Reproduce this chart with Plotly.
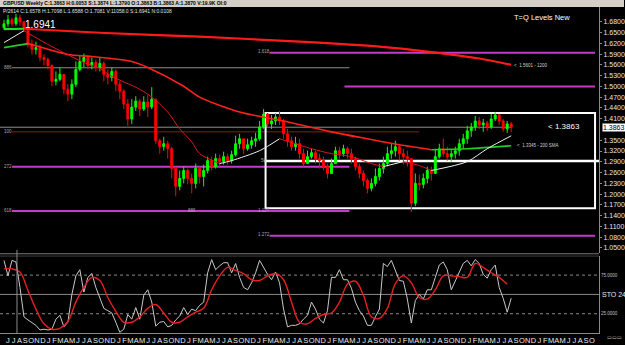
import plotly.graph_objects as go

W, H = 625, 345
FONT = "Liberation Sans"

# ---------------- data ----------------
WEEKS = list(range(128))
FIRST_OPEN = 1.6635
CLOSE = [1.6745, 1.6856, 1.6745, 1.6911, 1.6800, 1.6635, 1.6165, 1.6027, 1.6082, 1.5806,
         1.5751, 1.5585, 1.5143, 1.5198, 1.5336, 1.4922, 1.4784, 1.5060, 1.5474, 1.5695,
         1.5806, 1.5585, 1.5668, 1.5530, 1.5640, 1.5336, 1.5253, 1.5419, 1.5060, 1.4867,
         1.4507, 1.4093, 1.4425, 1.4590, 1.4369, 1.4563, 1.4425, 1.4646, 1.3485, 1.3320,
         1.3403, 1.3264, 1.2712, 1.2215, 1.2436, 1.2657, 1.2436, 1.2298, 1.2712, 1.2491,
         1.2657, 1.2933, 1.2767, 1.2988, 1.2905, 1.3043, 1.2933, 1.3099, 1.3403, 1.3541,
         1.3264, 1.3375, 1.3485, 1.3541, 1.3872, 1.4231, 1.3955, 1.4038, 1.4148, 1.4038,
         1.3679, 1.3485, 1.3320, 1.3403, 1.3126, 1.2850, 1.3043, 1.3154, 1.2988, 1.2933,
         1.2767, 1.2574, 1.2850, 1.3209, 1.3126, 1.3264, 1.3126, 1.2988, 1.2767, 1.2574,
         1.2380, 1.2159, 1.2298, 1.2491, 1.2712, 1.2850, 1.3126, 1.3209, 1.3320, 1.3126,
         1.3043, 1.2988, 1.1745, 1.2298, 1.2270, 1.2436, 1.2657, 1.2574, 1.3043, 1.3264,
         1.3126, 1.3043, 1.3126, 1.3209, 1.3403, 1.3541, 1.3762, 1.3872, 1.4038, 1.3927,
         1.3983, 1.3872, 1.4093, 1.4204, 1.4038, 1.3817, 1.3955, 1.3863]
HIGH = [1.6856, 1.6994, 1.6911, 1.7021, 1.6994, 1.6800, 1.6635, 1.6303, 1.6248, 1.6165,
        1.5889, 1.5806, 1.5612, 1.5419, 1.5530, 1.5336, 1.5060, 1.5198, 1.5695, 1.5861,
        1.5916, 1.5861, 1.5806, 1.5751, 1.5806, 1.5695, 1.5474, 1.5530, 1.5474, 1.5143,
        1.4922, 1.4646, 1.4646, 1.4728, 1.4646, 1.4728, 1.4756, 1.4977, 1.4646, 1.3541,
        1.3596, 1.3485, 1.3320, 1.2767, 1.2657, 1.2767, 1.2712, 1.2574, 1.2850, 1.2767,
        1.2822, 1.3043, 1.3043, 1.3126, 1.3099, 1.3182, 1.3126, 1.3209, 1.3624, 1.3679,
        1.3541, 1.3541, 1.3596, 1.3706, 1.4038, 1.4369, 1.4259, 1.4204, 1.4259, 1.4314,
        1.4093, 1.3817, 1.3596, 1.3596, 1.3541, 1.3264, 1.3209, 1.3264, 1.3209, 1.3126,
        1.3043, 1.2850, 1.2988, 1.3320, 1.3320, 1.3375, 1.3320, 1.3264, 1.3043, 1.2850,
        1.2657, 1.2436, 1.2436, 1.2712, 1.2850, 1.3043, 1.3320, 1.3403, 1.3485, 1.3375,
        1.3264, 1.3209, 1.2988, 1.2574, 1.2546, 1.2574, 1.2767, 1.2767, 1.3264, 1.3403,
        1.3541, 1.3320, 1.3264, 1.3320, 1.3541, 1.3679, 1.3900, 1.3983, 1.4176, 1.4148,
        1.4093, 1.4038, 1.4231, 1.4286, 1.4231, 1.4093, 1.4038, 1.4010]
LOW = [1.6579, 1.6662, 1.6662, 1.6690, 1.6690, 1.6524, 1.6082, 1.5889, 1.5889, 1.5695,
       1.5585, 1.5474, 1.5005, 1.5032, 1.5143, 1.4784, 1.4590, 1.4646, 1.4977, 1.5419,
       1.5530, 1.5474, 1.5474, 1.5419, 1.5419, 1.5143, 1.5060, 1.5143, 1.4867, 1.4646,
       1.4369, 1.3900, 1.3955, 1.4314, 1.4176, 1.4314, 1.4148, 1.4369, 1.3403, 1.3126,
       1.3209, 1.2988, 1.2436, 1.1938, 1.2104, 1.2298, 1.2270, 1.2021, 1.2159, 1.2298,
       1.2215, 1.2574, 1.2657, 1.2712, 1.2767, 1.2822, 1.2822, 1.2850, 1.3043, 1.3264,
       1.3126, 1.3209, 1.3264, 1.3320, 1.3485, 1.3817, 1.3872, 1.3817, 1.3927, 1.3927,
       1.3541, 1.3320, 1.3209, 1.3209, 1.2988, 1.2767, 1.2850, 1.2988, 1.2850, 1.2712,
       1.2657, 1.2436, 1.2657, 1.2850, 1.2988, 1.3043, 1.2988, 1.2850, 1.2657, 1.2436,
       1.2215, 1.2021, 1.2077, 1.2215, 1.2380, 1.2574, 1.2767, 1.2988, 1.3043, 1.2933,
       1.2822, 1.2767, 1.1496, 1.1662, 1.2104, 1.2159, 1.2298, 1.2380, 1.2574, 1.2988,
       1.3043, 1.2933, 1.2905, 1.2988, 1.3071, 1.3264, 1.3403, 1.3596, 1.3762, 1.3817,
       1.3734, 1.3762, 1.3817, 1.4038, 1.3927, 1.3734, 1.3706, 1.3734]

MA1200_WEEK = [0, 5, 24, 49, 74, 94, 106, 119, 127]
MA1200 = [1.6595, 1.6607, 1.6496, 1.6386, 1.6248, 1.6110, 1.5972, 1.5778, 1.5601]
MA200_WEEK = [0, 6, 7, 16, 22, 32, 36, 45, 49, 59, 70, 82, 91, 99, 107, 116, 127]
MA200 = [1.6082, 1.6193, 1.6165, 1.5889, 1.5834, 1.5695, 1.5530, 1.5005, 1.4701,
         1.4286, 1.4038, 1.3734, 1.3541, 1.3375, 1.3237, 1.3264, 1.3345]
MA50_WEEK = [0, 5, 12, 20, 24, 27, 34, 37, 41, 44, 47, 49, 54, 57, 64, 69, 77, 82,
             87, 92, 95, 100, 104, 107, 116, 121, 127]
MA50 = [1.6220, 1.6552, 1.6110, 1.5668, 1.5502, 1.5281, 1.4922, 1.4701, 1.4286,
        1.3817, 1.3458, 1.3126, 1.2850, 1.2933, 1.3209, 1.3541, 1.3264, 1.3126,
        1.3043, 1.2850, 1.2767, 1.2905, 1.2795, 1.2657, 1.2905, 1.3264, 1.3624]

STO_K = [94, 74, 94, 92, 59, 21, 17, 14, 10, 4, 5, 4, 5, 18, 23, 8, 14, 50, 74, 82,
         53, 72, 77, 59, 46, 32, 29, 26, 14, 1, 5, 24, 18, 33, 18, 49, 56, 40, 9, 14,
         15, 8, 10, 17, 22, 33, 24, 31, 29, 36, 40, 78, 95, 82, 87, 91, 91, 78, 90, 72,
         59, 56, 65, 78, 94, 85, 76, 69, 79, 65, 31, 8, 10, 10, 12, 18, 23, 40, 31, 18,
         13, 29, 72, 72, 82, 69, 69, 58, 40, 29, 22, 10, 10, 21, 31, 90, 86, 94, 82, 68,
         67, 44, 13, 42, 50, 44, 56, 56, 72, 88, 92, 82, 56, 67, 78, 90, 94, 87, 95, 90,
         76, 71, 82, 88, 59, 45, 27, 45]
STO_D_WEEK = list(range(0, 128, 2))
STO_D = [83, 83, 79, 55, 31, 12, 5, 6, 15, 40, 59, 72, 68, 46, 28, 14, 14, 21, 32, 37,
         26, 14, 14, 21, 27, 32, 56, 74, 85, 81, 77, 69, 68, 74, 77, 69, 40, 14, 12, 19,
         24, 26, 40, 63, 67, 49, 21, 19, 32, 64, 74, 65, 46, 44, 56, 74, 74, 73, 72, 90,
         85, 78, 72, 63]

PRICE_TICKS = [1.68, 1.65, 1.62, 1.59, 1.56, 1.53, 1.50, 1.47, 1.44, 1.41, 1.35, 1.32,
               1.29, 1.26, 1.23, 1.20, 1.17, 1.14, 1.11, 1.08, 1.05]
LAST_PRICE = 1.3863
MONTH_LABELS = list("MJJASOND JFMAMJJASOND JFMAMJJASOND JFMAMJJASOND JFMAMJJASOND "
                    "JFMAMJJASOND JFMAMJJASOND JFMAMJJASOND JFMAMJJASO".replace(" ", ""))

# level lines: price, first week, last week
PURPLE_LEVELS = [(1.5940, 66.5, 148), (1.5000, 85.25, 148), (1.2760, 2, 86.5),
                 (1.1530, 2, 86.5), (1.0840, 66.5, 148)]
GRAY_LEVELS = [(1.5520, 2, 86.5), (LAST_PRICE, -1, 127)]
DARKRED_LEVELS = [(1.3734, 2, 104)]
PIVOT_LEVEL = (1.2925, 65.25, 149)
BOX = (65.5, 148, 1.1607, 1.4259)

# ---------------- figure ----------------
OPEN = [FIRST_OPEN] + CLOSE[:-1]

fig = go.Figure()

fig.add_trace(go.Candlestick(
    x=WEEKS, open=OPEN, high=HIGH, low=LOW, close=CLOSE,
    increasing=dict(line=dict(color="#00ff00", width=1), fillcolor="#00ff00"),
    decreasing=dict(line=dict(color="#ff0000", width=1), fillcolor="#ff0000"),
    whiskerwidth=0, xaxis="x", yaxis="y", showlegend=False, hoverinfo="skip"))


def add_slope_colored(weeks, vals, up_col, down_col, width):
    segs = []
    for j in range(len(vals) - 1):
        col = up_col if vals[j + 1] >= vals[j] else down_col
        if segs and segs[-1][0] == col:
            segs[-1][1].append(j + 1)
        else:
            segs.append([col, [j, j + 1]])
    for col, idx in segs:
        fig.add_trace(go.Scatter(
            x=[weeks[k] for k in idx], y=[vals[k] for k in idx], mode="lines",
            line=dict(color=col, width=width, shape="spline", smoothing=0.8),
            xaxis="x", yaxis="y", showlegend=False, hoverinfo="skip"))


add_slope_colored(MA1200_WEEK, MA1200, "#20e020", "#ff1a1a", 2.2)
add_slope_colored(MA200_WEEK, MA200, "#22cc22", "#ff2020", 1.6)
add_slope_colored(MA50_WEEK, MA50, "#f0f0f0", "#e01818", 1.0)

fig.add_trace(go.Scatter(x=WEEKS, y=STO_K, mode="lines",
                         line=dict(color="#c8c8c8", width=1),
                         xaxis="x2", yaxis="y2", showlegend=False, hoverinfo="skip"))
fig.add_trace(go.Scatter(x=STO_D_WEEK, y=STO_D, mode="lines",
                         line=dict(color="#e82020", width=1.4, shape="spline", smoothing=1.0),
                         xaxis="x2", yaxis="y2", showlegend=False, hoverinfo="skip"))

shapes = []
PURPLE = "#c23cc8"
for p, a, b in PURPLE_LEVELS:
    shapes.append(dict(type="line", xref="x", yref="y", x0=a, x1=b, y0=p, y1=p,
                       line=dict(color=PURPLE, width=2), layer="below"))
for p, a, b in GRAY_LEVELS:
    shapes.append(dict(type="line", xref="x", yref="y", x0=a, x1=b, y0=p, y1=p,
                       line=dict(color="#8c8c8c", width=1), layer="below"))
for p, a, b in DARKRED_LEVELS:
    shapes.append(dict(type="line", xref="x", yref="y", x0=a, x1=b, y0=p, y1=p,
                       line=dict(color="#8a1c1c", width=1), layer="below"))
p, a, b = PIVOT_LEVEL
shapes.append(dict(type="line", xref="x", yref="y", x0=a, x1=b, y0=p, y1=p,
                   line=dict(color="#ffffff", width=2.5), layer="below"))
bx0, bx1, by0, by1 = BOX
shapes.append(dict(type="rect", xref="x", yref="y", x0=bx0, x1=bx1, y0=by0, y1=by1,
                   line=dict(color="#ffffff", width=2), layer="below"))


def pp(x, y):
    return x / W, 1 - y / H


# header bar
shapes.append(dict(type="rect", xref="paper", yref="paper", x0=0, x1=1,
                   y0=pp(0, 7)[1], y1=1, fillcolor="#d4d0c8", line=dict(width=0)))
# panel separator
shapes.append(dict(type="line", xref="paper", yref="paper", x0=0, x1=600 / W,
                   y0=pp(0, 256)[1], y1=pp(0, 256)[1], line=dict(color="#7a7a7a", width=1)))
# stochastic grid
STO_GRID = [(100, "solid"), (75, "dot"), (50, "solid"), (25, "dot")]
for v, d in STO_GRID:
    shapes.append(dict(type="line", xref="paper", yref="y2", x0=0, x1=600 / W, y0=v, y1=v,
                       line=dict(color="#8a8a8a", width=1, dash=d), layer="below"))
shapes.append(dict(type="line", xref="paper", yref="paper", x0=17 / W, x1=17 / W,
                   y0=pp(0, 336)[1], y1=pp(0, 252)[1], line=dict(color="#8a8a8a", width=1)))

ann = []


def text(x, y, s, size, color="#ffffff", xanchor="left", bg=None, bold=False):
    xx, yy = pp(x, y)
    d = dict(xref="paper", yref="paper", x=xx, y=yy, text=("<b>%s</b>" % s) if bold else s,
             showarrow=False, xanchor=xanchor, yanchor="middle",
             font=dict(family=FONT, size=size, color=color))
    if bg:
        d.update(bgcolor=bg, borderpad=0)
    ann.append(d)


text(1, 3.5, "GBPUSD Weekly C:1.3863 H:0.0053 S:1.3874 L:1.3790 O:1.3863 B:1.3863 A:1.3870 V:19.9K OI:0",
     5, "#000000", bold=True)
text(1, 11, "P/2614 C:1.6578 H:1.7098 L:1.6588 O:1.7081 V:11058.0 S:1.6941 N:0.0108", 5, "#e0e0e0")
text(23, 25, "1.6941", 10)
text(513, 18, "T=Q Levels New", 7.5)
text(547, 128, "&lt; 1.3863", 8)
text(516, 146.5, "&lt;  1.3345 - 200 SMA", 4.5, "#d0d0d0")
text(513, 66, "&lt;  1.5601 - 1200", 4.5, "#d0d0d0")
text(603, 128.5, "1.3863", 7, "#000000", bg="#ffffff")
for (x, y, s) in [(256, 52, "1.618"), (256, 237, "1.272"), (256, 212, "1.127"),
                  (186, 212, "886"), (259, 161.5, "50"), (2, 68, "886"), (2, 133, "100"),
                  (2, 168, "272"), (2, 212, "618")]:
    text(x, y, s, 4.5, "#a8a8a8")
text(601, 297.5, "STO 24", 7, "#e8e8e8")
text(606, 340, "▭▭▭", 5, "#c0c0c0")

month_pos = [(2 + 5.85 * i) / 4 - 1 for i in range(len(MONTH_LABELS))]

main_dom = [1 - 255 / H, 1 - 7 / H]
sto_dom = [1 - 336 / H, 1 - 258 / H]
XR = [-1, 149]

fig.update_layout(
    width=W, height=H, margin=dict(l=0, r=0, t=0, b=0),
    paper_bgcolor="#000000", plot_bgcolor="#000000",
    showlegend=False, shapes=shapes, annotations=ann,
    xaxis=dict(domain=[0, 600 / W], range=XR, anchor="y", showticklabels=False,
               showgrid=False, zeroline=False, showline=False, ticks="",
               rangeslider=dict(visible=False)),
    yaxis=dict(domain=main_dom, range=[1.0364, 1.7215], anchor="x", side="right",
               showgrid=False, zeroline=False, showline=True, linecolor="#8a8a8a",
               ticks="outside", ticklen=2, tickcolor="#8a8a8a",
               tickvals=PRICE_TICKS, ticktext=["%.4f" % v for v in PRICE_TICKS],
               tickfont=dict(family=FONT, size=7, color="#e8e8e8")),
    xaxis2=dict(domain=[0, 600 / W], range=XR, anchor="y2", matches="x",
                showgrid=False, zeroline=False, showline=True, linecolor="#8a8a8a",
                ticks="", tickvals=month_pos, ticktext=MONTH_LABELS, tickangle=0,
                tickfont=dict(family=FONT, size=7.5, color="#e8e8e8")),
    yaxis2=dict(domain=sto_dom, range=[0, 100], anchor="x2", side="right",
                showgrid=False, zeroline=False, showline=True, linecolor="#8a8a8a",
                ticks="", tickvals=[75, 25], ticktext=["75.0000", "25.0000"],
                tickfont=dict(family=FONT, size=4.5, color="#c0c0c0")),
)

fig.write_html("out.html")
